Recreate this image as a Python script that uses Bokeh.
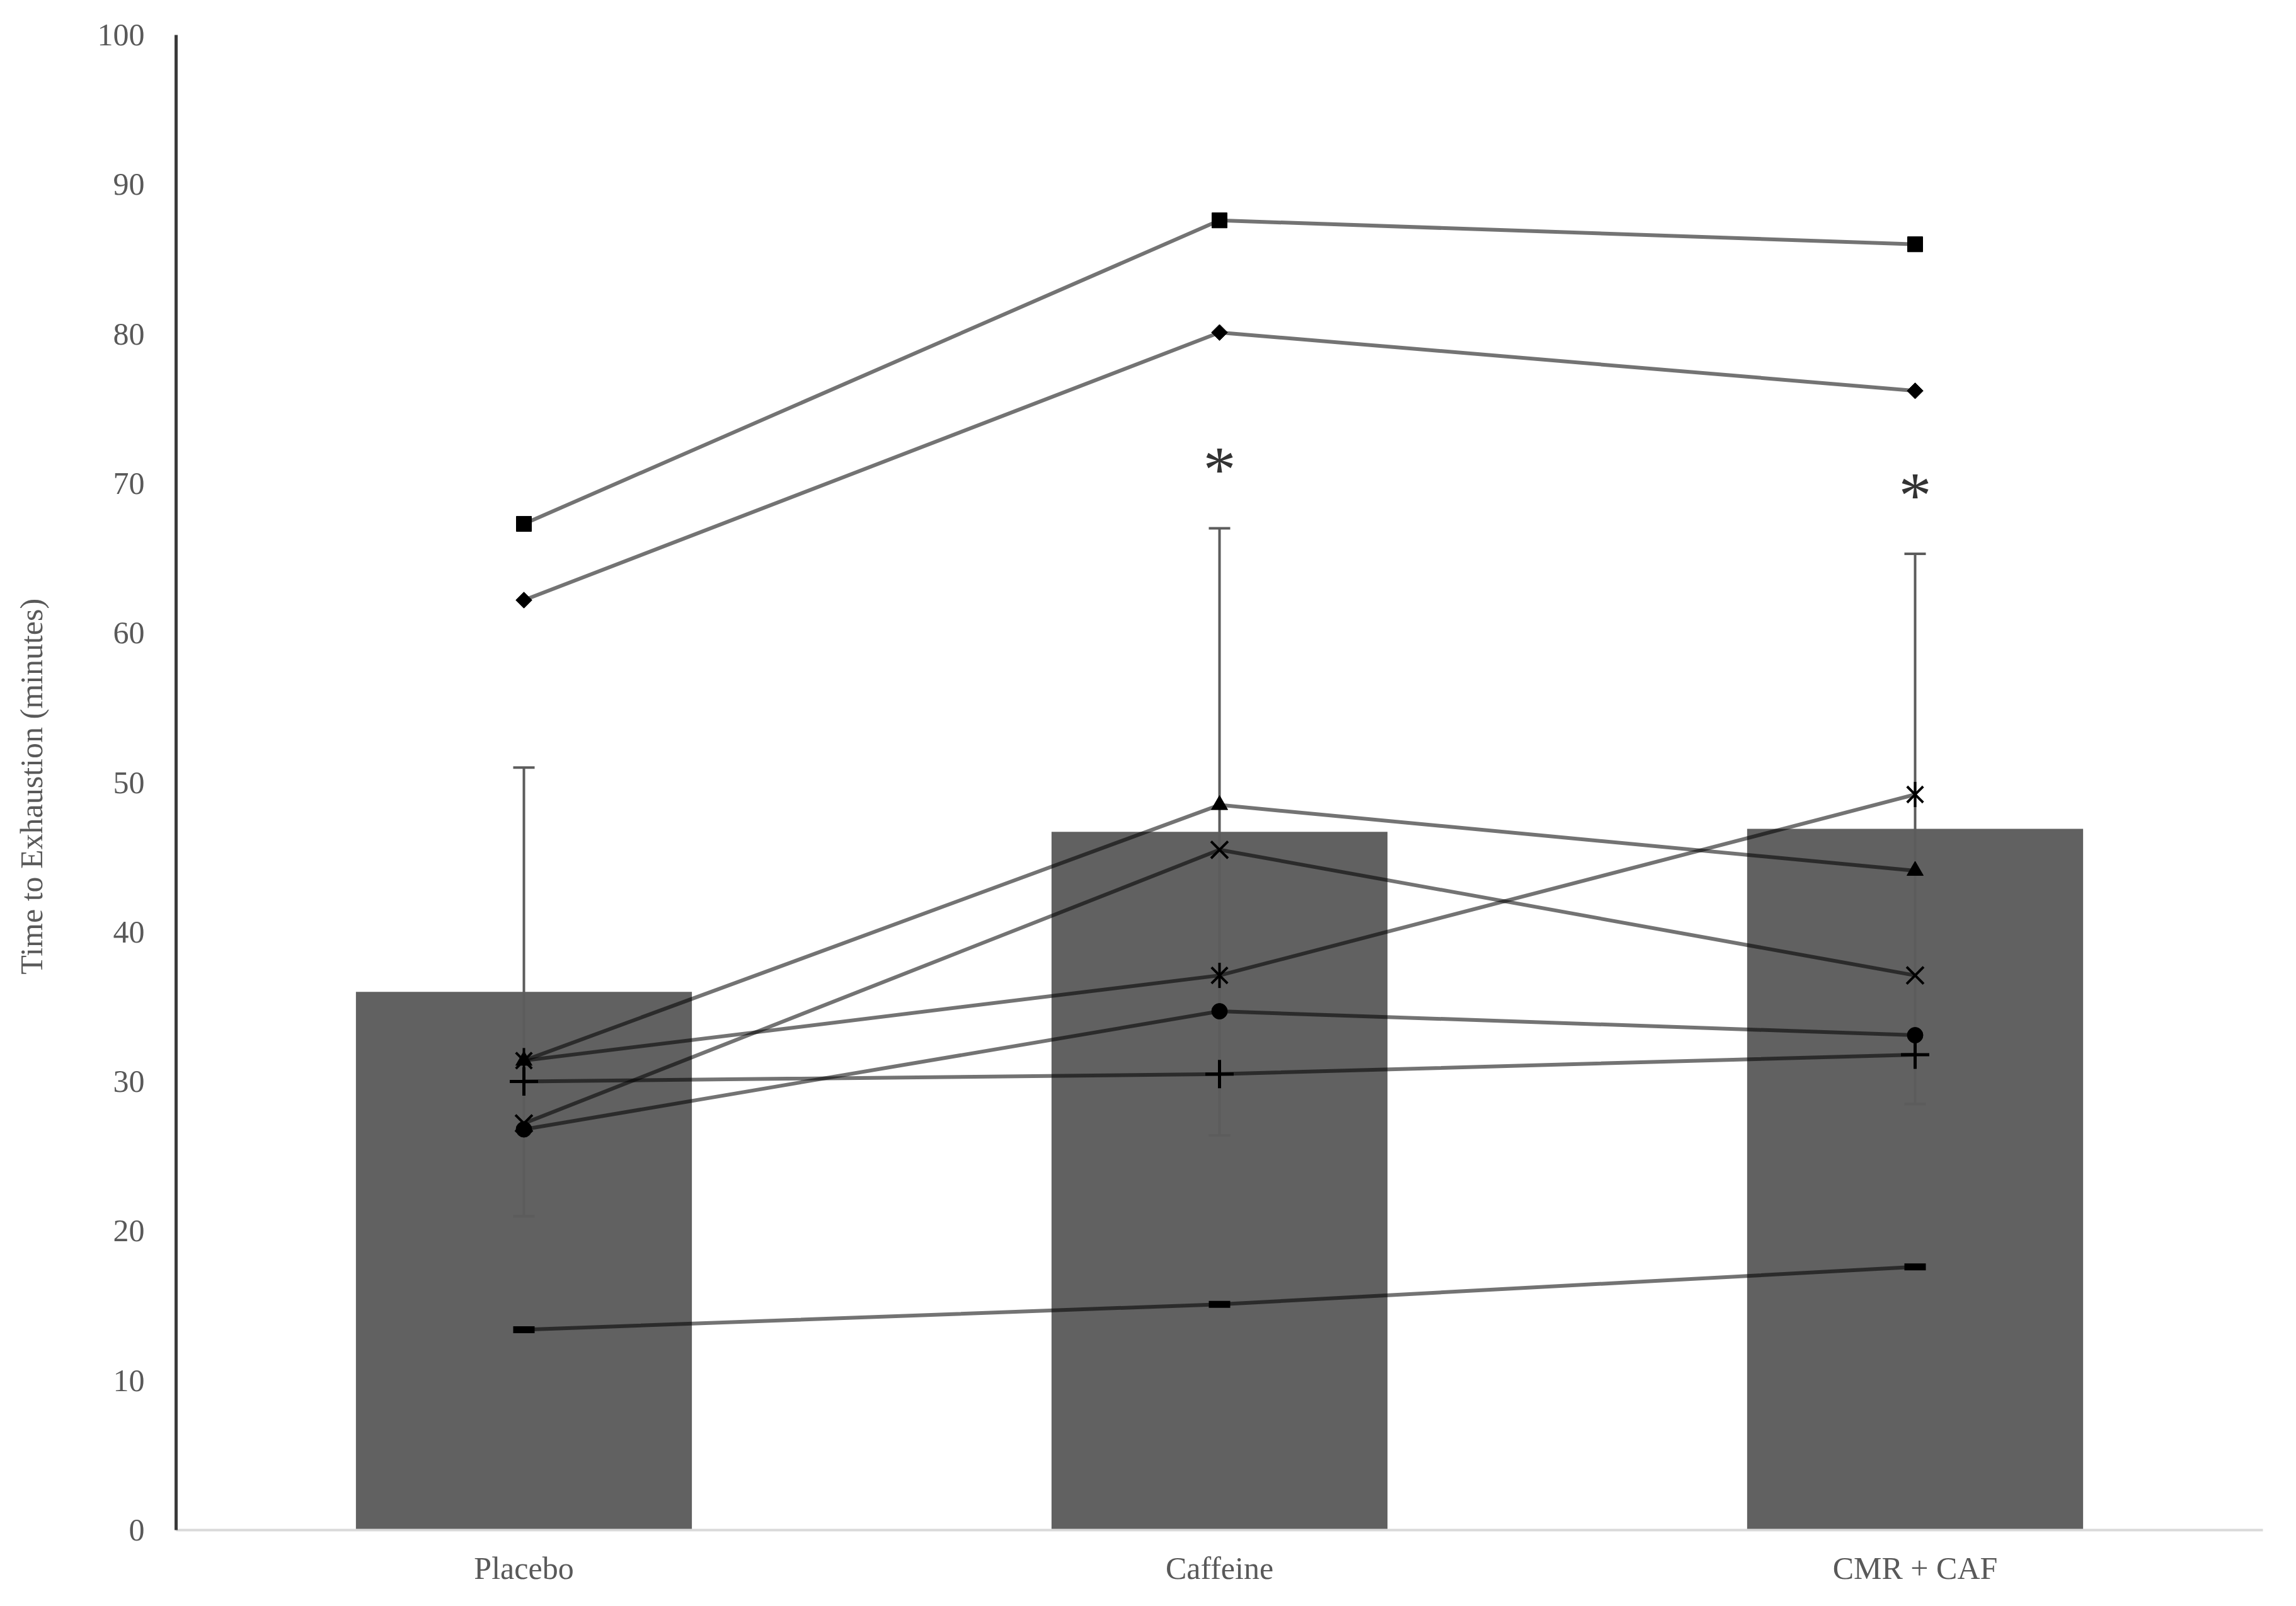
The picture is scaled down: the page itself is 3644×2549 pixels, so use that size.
import math
from bokeh.plotting import figure
from bokeh.models import FactorRange, Range1d, FixedTicker
from bokeh.core.properties import value
from bokeh.embed import file_html
from bokeh.resources import INLINE

# ---------------- data ----------------
categories = ["Placebo", "Caffeine", "CMR + CAF"]
mean_time = [36.0, 46.7, 46.9]
sd_time = [15.0, 20.3, 18.4]
significance = ["", "*", "*"]

subject_diamond = [62.2, 80.1, 76.2]
subject_square = [67.3, 87.6, 86.0]
subject_triangle = [31.4, 48.5, 44.1]
subject_x = [27.2, 45.5, 37.1]
subject_star = [31.4, 37.1, 49.2]
subject_circle = [26.8, 34.7, 33.1]
subject_plus = [30.0, 30.5, 31.8]
subject_dash = [13.4, 15.1, 17.6]

y_ticks = [0, 10, 20, 30, 40, 50, 60, 70, 80, 90, 100]
y_title = "Time  to Exhaustion (minutes)"

upper = [m + s for m, s in zip(mean_time, sd_time)]
lower = [m - s for m, s in zip(mean_time, sd_time)]

FONT = "Liberation Serif"
TEXT_COLOR = "#595959"

p = figure(
    x_range=FactorRange(factors=categories, range_padding=0),
    y_range=Range1d(0, 100),
    width=3628, height=2533,
    output_backend="svg", toolbar_location=None,
    min_border_left=279, min_border_right=37,
    min_border_top=55, min_border_bottom=105,
)
p.outline_line_color = None
p.xgrid.grid_line_color = None
p.ygrid.grid_line_color = None
p.background_fill_color = "white"
p.border_fill_color = "white"

# bars
p.vbar(x=categories, top=mean_time, width=0.483, fill_color="#616161", line_color=None)

# error bars
p.segment(x0=categories, y0=lower, x1=categories, y1=upper, line_color="#5c5c5c", line_width=4)
p.scatter(x=categories, y=upper, marker="dash", size=34, line_color="#5c5c5c", line_width=4)
p.scatter(x=categories, y=lower, marker="dash", size=34, line_color="#5c5c5c", line_width=4)

# individual lines
subjects = [subject_diamond, subject_square, subject_triangle, subject_x,
            subject_star, subject_circle, subject_plus, subject_dash]
for vals in subjects:
    p.line(x=categories, y=vals, line_color="black", line_alpha=0.55, line_width=6)

# markers
p.scatter(x=categories, y=subject_diamond, marker="square", angle=math.pi / 4, size=18,
          fill_color="black", line_color="black")
p.scatter(x=categories, y=subject_square, marker="square", size=24,
          fill_color="black", line_color="black")
p.scatter(x=categories, y=subject_triangle, marker="triangle", size=26,
          fill_color="black", line_color="black")
p.scatter(x=categories, y=subject_x, marker="x", size=38, line_color="black", line_width=4)
p.scatter(x=categories, y=subject_star, marker="x", size=36, line_color="black", line_width=4)
p.scatter(x=categories, y=subject_star, marker="dash", angle=math.pi / 2, size=40,
          line_color="black", line_width=4)
p.scatter(x=categories, y=subject_circle, marker="circle", size=25,
          fill_color="black", line_color="black")
p.scatter(x=categories, y=subject_plus, marker="cross", size=45, line_color="black", line_width=5)
p.scatter(x=categories, y=subject_dash, marker="dash", size=34, line_color="black", line_width=11)

# significance asterisks
p.text(x=categories, y=[u + 3.95 for u in upper], text=significance,
       text_font=value(FONT), text_font_size="104px", text_color="#333333",
       text_align="center", text_baseline="middle")

# axes
p.yaxis.ticker = FixedTicker(ticks=y_ticks)
p.yaxis.axis_line_color = "#3a3a3a"
p.yaxis.axis_line_width = 5
p.xaxis.axis_line_color = "#d9d9d9"
p.xaxis.axis_line_width = 4
for ax in (p.xaxis, p.yaxis):
    ax.major_tick_line_color = None
    ax.minor_tick_line_color = None
    ax.major_label_text_font = FONT
    ax.major_label_text_font_size = "50px"
    ax.major_label_text_color = TEXT_COLOR
p.yaxis.major_label_standoff = 44
p.xaxis.major_label_standoff = 26
p.yaxis.axis_label = y_title
p.yaxis.axis_label_text_font = FONT
p.yaxis.axis_label_text_font_size = "50px"
p.yaxis.axis_label_text_font_style = "normal"
p.yaxis.axis_label_text_color = TEXT_COLOR
p.yaxis.axis_label_standoff = 74

open("out.html", "w").write(file_html(p, INLINE))
